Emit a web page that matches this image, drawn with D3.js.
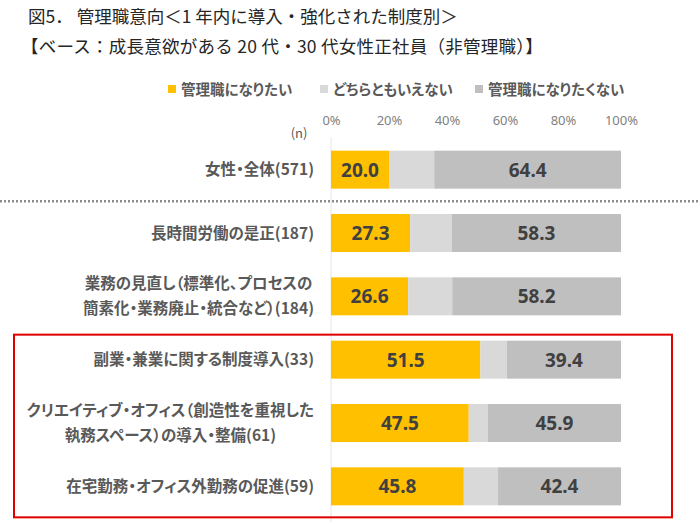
<!DOCTYPE html>
<html>
<head>
<meta charset="utf-8">
<script src="https://cdn.jsdelivr.net/npm/d3@7"></script>
<style>
  body { margin: 0; background: #fff; }
  svg { font-family: "Noto Sans CJK JP", "Noto Sans", sans-serif; }
  .jp { font-feature-settings: "palt" 1; }
</style>
</head>
<body>
<div id="chart"></div>
<script>
var categories = [
    ["女性・全体(571)"],
    ["長時間労働の是正(187)"],
    ["業務の見直し（標準化、プロセスの", "簡素化・業務廃止・統合など）(184)"],
    ["副業・兼業に関する制度導入(33)"],
    ["クリエイティブ・オフィス（創造性を重視した", "執務スペース）の導入・整備(61)"],
    ["在宅勤務・オフィス外勤務の促進(59)"]
];
var want = [20.0, 27.3, 26.6, 51.5, 47.5, 45.8];
var neutral = [15.6, 14.4, 15.2, 9.1, 6.6, 11.8];
var notWant = [64.4, 58.3, 58.2, 39.4, 45.9, 42.4];
var seriesNames = ["管理職になりたい", "どちらともいえない", "管理職になりたくない"];
var colors = ["#FFC000", "#D9D9D9", "#BFBFBF"];
var ticks = [0, 20, 40, 60, 80, 100];

var width = 700, height = 524;
var svg = d3.select("#chart").append("svg")
    .attr("width", width)
    .attr("height", height);

// titles
svg.append("text")
    .attr("x", 28).attr("y", 23)
    .attr("font-size", 17.5).attr("fill", "#262626")
    .text("図5． 管理職意向＜1 年内に導入・強化された制度別＞");
svg.append("text")
    .attr("x", 21).attr("y", 53)
    .attr("font-size", 17.5).attr("fill", "#262626")
    .attr("letter-spacing", 0.25)
    .text("【ベース：成長意欲がある 20 代・30 代女性正社員（非管理職）】");

var x = d3.scaleLinear().domain([0, 100]).range([331, 621]);
var y = d3.scaleBand()
    .domain(d3.range(categories.length))
    .range([138, 518])
    .paddingInner(0.4)
    .paddingOuter(0.2);

// legend
var legendX = [168, 320, 475];
var legend = svg.append("g").selectAll("g")
    .data(seriesNames)
    .enter().append("g")
    .attr("transform", (d, i) => `translate(${legendX[i]}, 90)`);
legend.append("rect")
    .attr("x", 0).attr("y", -5)
    .attr("width", 8).attr("height", 8)
    .attr("fill", (d, i) => colors[i]);
legend.append("text")
    .attr("class", "jp")
    .attr("x", 13).attr("y", 0)
    .attr("dy", "0.36em")
    .attr("font-size", 14.5).attr("font-weight", "bold")
    .attr("fill", "#595959")
    .text(d => d);

// top axis
var xAxis = svg.append("g")
    .attr("transform", "translate(0, 120)")
    .call(d3.axisTop(x).tickValues(ticks).tickFormat(d => d + "%").tickSize(0));
xAxis.select(".domain").remove();
xAxis.selectAll("text")
    .attr("dy", "0.35em")
    .attr("y", 0)
    .attr("font-size", 13)
    .attr("font-family", "'Noto Sans', sans-serif")
    .attr("fill", "#7f7f7f");

svg.append("text")
    .attr("x", 299).attr("y", 133)
    .attr("dy", "0.35em")
    .attr("text-anchor", "middle")
    .attr("font-size", 13).attr("fill", "#595959")
    .text("(n)");

// zero line
svg.append("line")
    .attr("x1", x(0)).attr("x2", x(0))
    .attr("y1", 137).attr("y2", 522)
    .attr("stroke", "#e6e6e6").attr("stroke-width", 1);

// stacked bars
var rows = categories.map((c, i) => ({
    i: i,
    vals: [want[i], neutral[i], notWant[i]]
}));
var segs = [];
rows.forEach(r => {
    var acc = 0;
    r.vals.forEach((v, k) => {
        segs.push({ row: r.i, k: k, x0: acc, x1: acc + v, v: v });
        acc += v;
    });
});

svg.append("g").selectAll("rect")
    .data(segs)
    .enter().append("rect")
    .attr("x", d => x(d.x0))
    .attr("y", d => y(d.row))
    .attr("width", d => x(d.x1) - x(d.x0))
    .attr("height", y.bandwidth())
    .attr("fill", d => colors[d.k]);

svg.append("g").selectAll("text")
    .data(segs.filter(d => d.k != 1))
    .enter().append("text")
    .attr("x", d => (x(d.x0) + x(d.x1)) / 2)
    .attr("y", d => y(d.row) + y.bandwidth() / 2)
    .attr("dy", "0.36em")
    .attr("text-anchor", "middle")
    .attr("font-size", 19).attr("font-weight", "bold")
    .attr("font-family", "'Noto Sans', sans-serif")
    .attr("fill", "#404040")
    .text(d => d.v.toFixed(1));

// category labels
var labelRight = 314;
var lineH = 25;
categories.forEach((lines, i) => {
    var cy = y(i) + y.bandwidth() / 2;
    var g = svg.append("g");
    var texts = g.selectAll("text")
        .data(lines)
        .enter().append("text")
        .attr("class", "jp")
        .attr("y", (d, j) => cy + (j - (lines.length - 1) / 2) * lineH)
        .attr("dy", "0.36em")
        .attr("font-size", 15.5).attr("font-weight", "bold")
        .attr("fill", "#595959")
        .text(d => d);
    if (lines.length == 1) {
        texts.attr("x", labelRight).attr("text-anchor", "end");
    } else {
        var maxW = d3.max(texts.nodes(), n => n.getComputedTextLength());
        texts.attr("x", labelRight - maxW / 2).attr("text-anchor", "middle");
    }
});

// dotted separator between total and the rest
var sepY = y(0) + y.bandwidth() + y.step() * y.paddingInner() / 2;
svg.append("line")
    .attr("x1", 0).attr("x2", width)
    .attr("y1", sepY).attr("y2", sepY)
    .attr("stroke", "#8c8c8c").attr("stroke-width", 2.5)
    .attr("stroke-dasharray", "2,2");

// red box around the last three rows
var boxTop = y(3) - 6;
var boxBottom = y(5) + y.bandwidth() + 12;
svg.append("rect")
    .attr("x", 14).attr("y", boxTop)
    .attr("width", 658).attr("height", boxBottom - boxTop)
    .attr("fill", "none")
    .attr("stroke", "#E00000").attr("stroke-width", 2);
</script>
</body>
</html>
